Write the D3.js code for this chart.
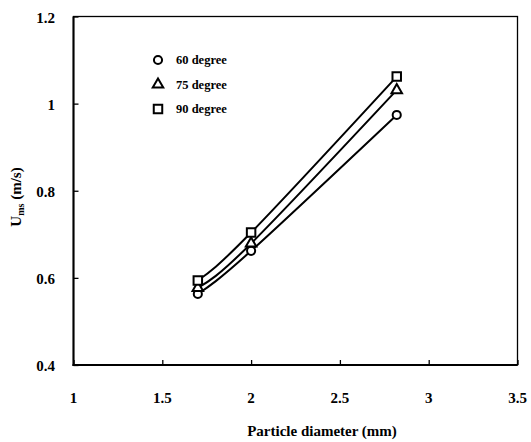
<!DOCTYPE html>
<html>
<head>
<meta charset="utf-8">
<script src="https://cdn.jsdelivr.net/npm/d3@7"></script>
<style>
  body { margin: 0; background: #fff; }
  svg text { font-family: "Liberation Serif", "Times New Roman", serif; font-weight: bold; fill: #000; }
</style>
</head>
<body>
<script>
(function () {
  "use strict";

  // particle diameters (mm)
  var diameters = [1.7, 2.0, 2.82];
  // Ums (m/s) per inclination angle
  var ums60 = [0.563, 0.662, 0.974];
  var ums75 = [0.577, 0.679, 1.031];
  var ums90 = [0.594, 0.704, 1.062];
  var seriesNames = ["60 degree", "75 degree", "90 degree"];
  var seriesShapes = ["circle", "triangle", "square"];
  var xTicks = [1, 1.5, 2, 2.5, 3, 3.5];
  var yTicks = [0.4, 0.6, 0.8, 1, 1.2];

  var width = 531, height = 442,
    left = 73.5, right = 517.5, top = 16.5, bottom = 365;

  var svg = d3.select("body").append("svg")
    .attr("width", width)
    .attr("height", height);

  var x = d3.scaleLinear().domain([1, 3.5]).range([left, right]);
  var y = d3.scaleLinear().domain([0.4, 1.2]).range([bottom, top]);

  // frame (top / right thin)
  svg.append("rect")
    .attr("x", left).attr("y", top)
    .attr("width", right - left).attr("height", bottom - top)
    .attr("fill", "none").attr("stroke", "#000").attr("stroke-width", 1.3);

  // x axis: major + minor ticks pointing inward
  var xAxis = svg.append("g").attr("transform", "translate(0," + bottom + ")");
  xAxis.call(d3.axisTop(x).ticks(25).tickSize(3).tickFormat(""));
  xAxis.call(d3.axisTop(x).tickValues(xTicks).tickSize(5).tickFormat(""));
  xAxis.selectAll(".domain").remove();
  xAxis.selectAll("line").attr("stroke-width", 1.3);

  svg.append("line")
    .attr("x1", left - 1).attr("x2", right)
    .attr("y1", bottom).attr("y2", bottom)
    .attr("stroke", "#000").attr("stroke-width", 2);

  svg.selectAll(".xlabel")
    .data(xTicks)
    .enter().append("text")
    .attr("class", "xlabel")
    .attr("x", function (d) { return x(d); })
    .attr("y", bottom + 38)
    .attr("text-anchor", "middle")
    .style("font-size", "15px")
    .text(function (d) { return d; });

  // y axis
  var yAxis = svg.append("g").attr("transform", "translate(" + left + ",0)");
  yAxis.call(d3.axisRight(y).tickValues(yTicks).tickSize(5).tickFormat(""));
  yAxis.selectAll(".domain").remove();
  yAxis.selectAll("line").attr("stroke-width", 1.3);

  svg.append("line")
    .attr("x1", left).attr("x2", left)
    .attr("y1", top).attr("y2", bottom + 1)
    .attr("stroke", "#000").attr("stroke-width", 2);

  svg.selectAll(".ylabel")
    .data(yTicks)
    .enter().append("text")
    .attr("class", "ylabel")
    .attr("x", 55)
    .attr("y", function (d) { return y(d) + 6; })
    .attr("text-anchor", "end")
    .style("font-size", "15px")
    .text(function (d) { return d; });

  // axis titles
  svg.append("text")
    .attr("x", 322)
    .attr("y", 436)
    .attr("text-anchor", "middle")
    .style("font-size", "15px")
    .text("Particle diameter (mm)");

  var yt = svg.append("text")
    .attr("transform", "translate(21,197) rotate(-90)")
    .attr("text-anchor", "middle")
    .style("font-size", "15px");
  yt.append("tspan").text("U");
  yt.append("tspan").attr("dy", 3).style("font-size", "10px").text("ms");
  yt.append("tspan").attr("dy", -3).text(" (m/s)");

  // fitted curves and markers
  var series = [ums60, ums75, ums90];
  var line = d3.line()
    .x(function (d) { return x(d[0]); })
    .y(function (d) { return y(d[1]); })
    .curve(d3.curveNatural);

  var symbols = {
    circle: d3.symbol().type(d3.symbolCircle).size(52),
    triangle: d3.symbol().type(d3.symbolTriangle).size(48),
    square: d3.symbol().type(d3.symbolSquare).size(72)
  };

  series.forEach(function (vals, k) {
    var pts = diameters.map(function (d, i) { return [d, vals[i]]; });
    svg.append("path")
      .datum(pts)
      .attr("d", line)
      .attr("fill", "none")
      .attr("stroke", "#000")
      .attr("stroke-width", 2);
  });

  series.forEach(function (vals, k) {
    svg.selectAll(".m" + k)
      .data(vals)
      .enter().append("path")
      .attr("class", "m" + k)
      .attr("transform", function (d, i) { return "translate(" + x(diameters[i]) + "," + y(d) + ")"; })
      .attr("d", symbols[seriesShapes[k]])
      .attr("fill", "#fff")
      .attr("stroke", "#000")
      .attr("stroke-width", 2);
  });

  // legend
  var legend = svg.selectAll(".legend")
    .data(seriesNames)
    .enter().append("g")
    .attr("class", "legend")
    .attr("transform", function (d, i) { return "translate(158," + (60 + i * 24.5) + ")"; });

  legend.append("path")
    .attr("d", function (d, i) { return symbols[seriesShapes[i]](); })
    .attr("fill", "#fff")
    .attr("stroke", "#000")
    .attr("stroke-width", 2);

  legend.append("text")
    .attr("x", 18)
    .attr("y", 4)
    .style("font-size", "12.5px")
    .text(function (d) { return d; });
})();
</script>
</body>
</html>
